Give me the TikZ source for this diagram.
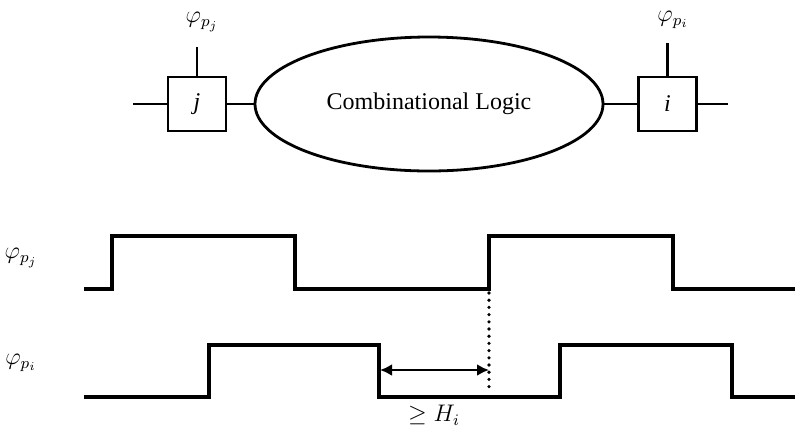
\documentclass[tikz,border=0pt]{standalone}
\usepackage{fontspec}
\setmainfont{Liberation Serif}
\usepackage{amsmath}
\usepackage{tikz}
\usetikzlibrary{shapes.geometric, arrows.meta, positioning}

\begin{document}
\begin{tikzpicture}[
  x=0.5pt, y=-0.5pt,
  reg/.style={rectangle, draw, line width=1.3pt, minimum width=29pt,
              minimum height=27pt, inner sep=0pt, font=\large\itshape},
  logic/.style={ellipse, draw, line width=1.4pt, minimum width=174pt,
                minimum height=67pt, inner sep=0pt, font=\large},
  wire/.style={line width=1.3pt},
  wave/.style={line width=1.6pt, line join=miter},
  lbl/.style={inner sep=0pt, font=\large},
  gap/.style={<->, line width=1.4pt, >={Latex[length=6pt, width=6pt]}},
  dots/.style={line width=1.8pt, line cap=round, dash pattern=on 0pt off 3.6pt}
]
\useasboundingbox (0,0) rectangle (796,435);

%% ---- Top: registers and logic ----
\node[reg]   (boxj)  at (197,104)   {j};
\node[logic] (logic) at (429,104)   {Combinational Logic};
\node[reg]   (boxi)  at (667.5,104) {i};

\coordinate (jin)  at (133,104);
\coordinate (iout) at (728,104);
\coordinate (jclk) at (197,47);
\coordinate (iclk) at (667.5,43);

\node[lbl] (phij) at (202,22) {$\varphi_{p_j}$};
\node[lbl] (phii) at (673,20) {$\varphi_{p_i}$};

\draw[wire] (jin) -- (boxj.west);
\draw[wire] (boxj.east) -- (logic.west);
\draw[wire] (logic.east) -- (boxi.west);
\draw[wire] (boxi.east) -- (iout);
\draw[wire] (boxj.north) -- (jclk);
\draw[wire] (boxi.north) -- (iclk);

%% ---- Bottom: clock waveforms ----
\node[lbl] (wj) at (21,258) {$\varphi_{p_j}$};
\node[lbl] (wi) at (21,363) {$\varphi_{p_i}$};

\draw[wave] (84,289) -- (112,289) -- (112,236) -- (295,236) -- (295,289)
  -- (489,289) -- (489,236) -- (673,236) -- (673,289) -- (795,289);
\draw[wave] (84,397) -- (209,397) -- (209,345) -- (379,345) -- (379,397)
  -- (560,397) -- (560,345) -- (732,345) -- (732,397) -- (795,397);

\coordinate (jrise) at (489,293);
\coordinate (jdrop) at (489,388);
\coordinate (ifall) at (380,370);
\coordinate (hend)  at (489,370);

\draw[dots] (jrise) -- (jdrop);
\draw[gap] (ifall) -- (hend);
\node[lbl] (hold) at (434,415) {$\geq H_i$};

\end{tikzpicture}
\end{document}
